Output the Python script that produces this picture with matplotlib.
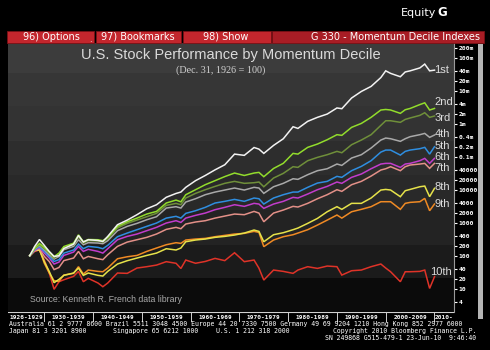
import numpy as np
import matplotlib
matplotlib.use("Agg")
import matplotlib.pyplot as plt
from matplotlib.patches import Rectangle
from matplotlib.ticker import FixedLocator, FixedFormatter, NullLocator

W, H = 490, 350

# ==========================
# data (year-end index levels, Dec. 31, 1926 = 100)
# ==========================
years = [1926, 1927, 1928, 1929, 1930, 1931, 1932, 1933, 1935, 1936, 1937, 1938,
         1940, 1941, 1942, 1944, 1946, 1948, 1950, 1952, 1954, 1956, 1957, 1958,
         1960, 1962, 1964, 1966, 1968, 1970, 1972, 1973, 1974, 1976, 1978, 1980,
         1981, 1983, 1985, 1987, 1989, 1990, 1992, 1994, 1996, 1998, 1999, 2000,
         2002, 2003, 2004, 2006, 2007, 2008, 2009]

d1 = [100, 190, 310, 205, 135, 95, 100, 165, 225, 410, 260, 305, 290, 270, 385, 870,
      1200, 1750, 2650, 3500, 5900, 7700, 8500, 11800, 18800, 27000, 40000, 57000,
      120000, 110000, 190000, 170000, 126000, 220000, 350000, 810000, 720000,
      1.18e6, 1.56e6, 1.96e6, 3.0e6, 2.85e6, 6.0e6, 9.5e6, 1.35e7, 2.5e7, 4.0e7,
      3.35e7, 2.65e7, 3.7e7, 4.0e7, 4.9e7, 6.4e7, 4.0e7, 4.2e7]
d2 = [100, 170, 235, 180, 130, 93, 120, 190, 240, 430, 265, 310, 305, 285, 360, 775,
      1070, 1380, 1830, 2200, 3950, 4850, 4300, 7050, 10000, 14200, 18800, 25000,
      32000, 27000, 32000, 33500, 24800, 44000, 63000, 126000, 120000, 192000,
      242000, 327000, 465000, 444000, 775000, 1.02e6, 1.56e6, 2.6e6, 2.7e6, 2.6e6,
      2.06e6, 2.65e6, 2.9e6, 3.8e6, 4.3e6, 2.6e6, 2.9e6]
d3 = [100, 163, 215, 163, 120, 85, 107, 171, 215, 368, 242, 285, 278, 259, 327, 689,
      955, 1205, 1520, 1920, 3350, 3850, 3500, 5600, 7750, 10000, 12600, 15600,
      17900, 15600, 16300, 17100, 12300, 22600, 31300, 49800, 47500, 75700, 95500,
      115000, 145000, 132000, 231000, 320000, 465000, 891000, 1.23e6, 1.23e6,
      1.1e6, 1.35e6, 1.49e6, 1.79e6, 2.15e6, 1.56e6, 1.71e6]
d4 = [100, 159, 205, 152, 107, 79, 95, 152, 192, 305, 215, 248, 242, 231, 285, 573,
      775, 955, 1230, 1520, 2780, 3060, 2780, 4230, 5330, 7060, 8490, 9770, 11250,
      9770, 11800, 11250, 7750, 12300, 15600, 21500, 20600, 28500, 37700, 43200,
      60000, 54600, 91200, 115000, 183000, 320000, 368000, 351000, 292000, 351000,
      404000, 465000, 509000, 386000, 454000]
d5 = [100, 152, 188, 135, 95, 67, 76, 120, 149, 226, 163, 192, 179, 163, 206, 377,
      486, 614, 775, 977, 1380, 1560, 1380, 1920, 2310, 2920, 3950, 4440, 5090, 4440,
      5600, 5330, 3680, 5600, 7060, 8490, 8490, 11800, 15900, 17900, 25400, 23700,
      37700, 50900, 75700, 138000, 159000, 159000, 112000, 145000, 159000, 175000,
      192000, 120000, 201000]
d6 = [100, 145, 179, 120, 85, 56, 64, 102, 129, 192, 135, 156, 135, 120, 163, 305,
      385, 454, 573, 723, 977, 1150, 1020, 1380, 1670, 1960, 2480, 2920, 3510, 3130,
      3860, 3680, 2720, 3680, 4440, 5860, 5600, 7400, 10000, 12600, 17100, 15600,
      23700, 29900, 43200, 60000, 62800, 62800, 47500, 60000, 62800, 75700, 89100,
      62800, 89100]
d7 = [100, 142, 163, 95, 67, 38, 44, 71, 85, 135, 81, 95, 81, 76, 107, 192, 259, 305,
      360, 454, 628, 723, 658, 912, 1050, 1150, 1380, 1590, 1830, 1750, 2200, 1960,
      1070, 1960, 2420, 3130, 2990, 3860, 5330, 7060, 10000, 8910, 14200, 17900,
      25900, 39500, 43200, 49800, 37700, 49800, 56000, 60000, 62800, 44400, 62800]
d8 = [100, 142, 149, 66, 33.5, 15.2, 19.2, 25.4, 29.9, 42.3, 25.4, 29.9, 25.4, 24.2,
      33.5, 56, 70.6, 85, 102, 120, 163, 149, 171, 265, 299, 320, 360, 385, 423, 486,
      600, 546, 265, 433, 498, 614, 689, 955, 1350, 2150, 3060, 2540, 3860, 3860,
      5600, 9770, 10200, 9770, 6140, 9330, 10200, 12300, 12900, 6140, 11000]
d9 = [100, 142, 156, 59, 30, 17.5, 16.7, 25.9, 29.2, 46.5, 27.8, 36.8, 33.5, 32.7,
      42.3, 81, 93, 102, 135, 171, 215, 248, 237, 299, 320, 335, 377, 413, 454, 475,
      546, 509, 188, 299, 377, 433, 486, 614, 849, 1200, 1710, 1380, 2150, 2540,
      3060, 4330, 4330, 4330, 2540, 3860, 4130, 4330, 5460, 2310, 3680]
d10 = [100, 135, 149, 74, 30, 9.6, 16.3, 18.7, 23.7, 33.5, 16.3, 20.6, 14.9, 11.5,
       14.9, 29.9, 29.2, 42.3, 46.5, 52, 66, 59, 41, 74, 59, 67, 83, 71, 123, 66, 74,
       42, 18.3, 36.8, 33.5, 29.2, 36.8, 46.5, 41.3, 48.6, 46.5, 25.9, 35.1, 36.8,
       46.5, 56, 42.3, 32.7, 16.3, 32.7, 32.7, 33.5, 36.8, 10.2, 23.1]

series = [d1, d2, d3, d4, d5, d6, d7, d8, d9, d10]
names = ["1st", "2nd", "3rd", "4th", "5th", "6th", "7th", "8th", "9th", "10th"]
colors = ["#f2f2f2", "#92dc2c", "#6f8f3a", "#a9a9a9", "#2f8ee0",
          "#c23ccc", "#e39088", "#e6e24a", "#f08a24", "#df3328"]
# where the decile names sit (value level)
label_y = [4.1e7, 4.4e6, 1.5e6, 4.9e5, 2.15e5, 9.8e4, 4.6e4, 1.2e4, 3.7e3, 33]

tick_vals = [2e8, 1e8, 4e7, 2e7, 1e7, 4e6, 2e6, 1e6, 4e5, 2e5, 1e5, 4e4, 2e4, 1e4,
             4000, 2000, 1000, 400, 200, 100, 40, 20, 10, 4]
tick_text = ["200m", "100m", "40m", "20m", "10m", "4m", "2m", "1m", "0.4m", "0.2m",
             "0.1m", "40000", "20000", "10000", "4000", "2000", "1000", "400", "200",
             "100", "40", "20", "10", "4"]

decades = ["1926-1929", "1930-1939", "1940-1949", "1950-1959", "1960-1969",
           "1970-1979", "1980-1989", "1990-1999", "2000-2009", "2010-"]
decade_edges = [1930, 1940, 1950, 1960, 1970, 1980, 1990, 2000, 2010]

XMIN, XMAX = 1922.55, 2014.0
YMIN, YMAX = 1.97, 2.79e8


def fx(x):
    return x / W


def fy(y):
    return 1 - y / H


fig = plt.figure(figsize=(W / 100, H / 100), dpi=100, facecolor="black")

# --- header ---
fig.text(fx(436.5), fy(13), "Equity", ha="right", va="center", color="white",
         fontsize=8, family="DejaVu Sans")
fig.text(fx(437), fy(13), "G", ha="left", va="center", color="white",
         fontsize=8.5, family="DejaVu Sans", weight="bold")

bar = [(7, 94.3, "#c3262d", "96) Options", 51),
       (95.7, 181, "#c3262d", "97) Bookmarks", 138),
       (183, 270.7, "#c3262d", "98) Show", 226),
       (272, 484, "#a81d25", "G 330 - Momentum Decile Indexes", 395)]
for x0, x1, c, t, xc in bar:
    fig.patches.append(Rectangle((fx(x0), fy(42.7)), fx(x1) - fx(x0), fy(31) - fy(42.7),
                                 transform=fig.transFigure, facecolor=c,
                                 edgecolor="#7a1015", linewidth=0.6))
    fig.text(fx(xc), fy(36.8), t, ha="center", va="center", color="white",
             fontsize=7, family="DejaVu Sans")
fig.text(fx(90), fy(40), ".", ha="center", va="center", color="white", fontsize=6)

# --- main chart ---
ax = fig.add_axes([fx(8), fy(312), fx(454) - fx(8), fy(43) - fy(312)])
ax.set_facecolor("#0a0a0a")
bands = [(0.0, 0.126, "#0b0b0b"), (0.126, 0.250, "#1b1b1b"), (0.250, 0.380, "#232323"),
         (0.380, 0.510, "#292929"), (0.510, 0.635, "#2d2d2d"), (0.635, 0.765, "#333333"),
         (0.765, 0.888, "#363636"), (0.888, 1.0, "#3c3c3c")]
for b0, b1, c in bands:
    ax.add_patch(Rectangle((0, b0), 1, b1 - b0, transform=ax.transAxes,
                           facecolor=c, edgecolor="none", zorder=0))

xs = np.array(years) + 1.0   # year-end -> Dec 31 position
for vals, c in zip(series[::-1], colors[::-1]):
    ax.plot(xs, vals, color=c, linewidth=1.1, solid_joinstyle="miter", zorder=3)

for name, ly in zip(names, label_y):
    ax.text(2010.0 if name != "10th" else 2009.2, ly, name, ha="left", va="center",
            color="#dddddd", fontsize=8, family="Liberation Sans", zorder=4)

ax.set_xlim(XMIN, XMAX)
ax.set_yscale("log")
ax.set_ylim(YMIN, YMAX)
ax.xaxis.set_major_locator(NullLocator())
ax.xaxis.set_minor_locator(NullLocator())
ax.yaxis.set_major_locator(FixedLocator(tick_vals))
ax.yaxis.set_major_formatter(FixedFormatter(tick_text))
ax.yaxis.set_minor_locator(NullLocator())
ax.yaxis.tick_right()
ax.tick_params(axis="y", direction="out", length=2.5, width=0.8, color="white",
               labelcolor="white", labelsize=4.6, pad=0.8)
for lab in ax.get_yticklabels():
    lab.set_family("DejaVu Sans Mono")
    lab.set_weight("bold")
for s in ["top", "left", "bottom"]:
    ax.spines[s].set_visible(False)
ax.spines["right"].set_color("#9a9a9a")
ax.spines["right"].set_linewidth(0.8)

ax.text(0.5, 0.955, "U.S. Stock Performance by Momentum Decile", transform=ax.transAxes,
        ha="center", va="center", color="#dadada", fontsize=10.5,
        family="Liberation Sans", zorder=5)
ax.text(0.477, 0.899, "(Dec. 31, 1926 = 100)", transform=ax.transAxes, ha="center",
        va="center", color="#d0d0d0", fontsize=7.3, family="Liberation Serif", zorder=5)
ax.text(0.05, 0.048, "Source: Kenneth R. French data library", transform=ax.transAxes,
        ha="left", va="center", color="#a9a9a9", fontsize=6.3,
        family="Liberation Sans", zorder=5)

# --- decade strip ---
axd = fig.add_axes([fx(8), fy(322), fx(454) - fx(8), fy(312) - fy(322)])
axd.set_facecolor("black")
axd.set_xlim(XMIN, XMAX)
axd.set_ylim(0, 1)
axd.set_xticks([])
axd.set_yticks([])
for s in axd.spines.values():
    s.set_visible(False)
axd.axhline(1, color="#d0d0d0", linewidth=0.8)
for e in decade_edges:
    axd.axvline(e, color="#d0d0d0", linewidth=0.7)
edges = [XMIN] + decade_edges + [XMAX]
for i, lab in enumerate(decades):
    axd.text((edges[i] + edges[i + 1]) / 2, 0.45, lab, ha="center", va="center",
             color="white", fontsize=4.4, family="DejaVu Sans Mono", weight="bold")

# scroll bar at right
fig.patches.append(Rectangle((fx(478), fy(319)), fx(5), fy(44) - fy(319),
                             transform=fig.transFigure, facecolor="#b5b5b5",
                             edgecolor="none"))

# --- footer ---
foot = dict(color="white", fontsize=4.7, family="DejaVu Sans Mono", va="center")
fig.text(fx(9), fy(324), "Australia 61 2 9777 8600 Brazil 5511 3048 4500 Europe 44 20 "
         "7330 7500 Germany 49 69 9204 1210 Hong Kong 852 2977 6000", ha="left", **foot)
fig.text(fx(9), fy(331), "Japan 81 3 3201 8900", ha="left", **foot)
fig.text(fx(113), fy(331), "Singapore 65 6212 1000", ha="left", **foot)
fig.text(fx(216), fy(331), "U.S. 1 212 318 2000", ha="left", **foot)
fig.text(fx(476), fy(331), "Copyright 2010 Bloomberg Finance L.P.", ha="right", **foot)
fig.text(fx(476), fy(337.5), "SN 249868 G515-479-1 23-Jun-10  9:46:40", ha="right", **foot)

fig.savefig("out.png", dpi=100, facecolor="black")
